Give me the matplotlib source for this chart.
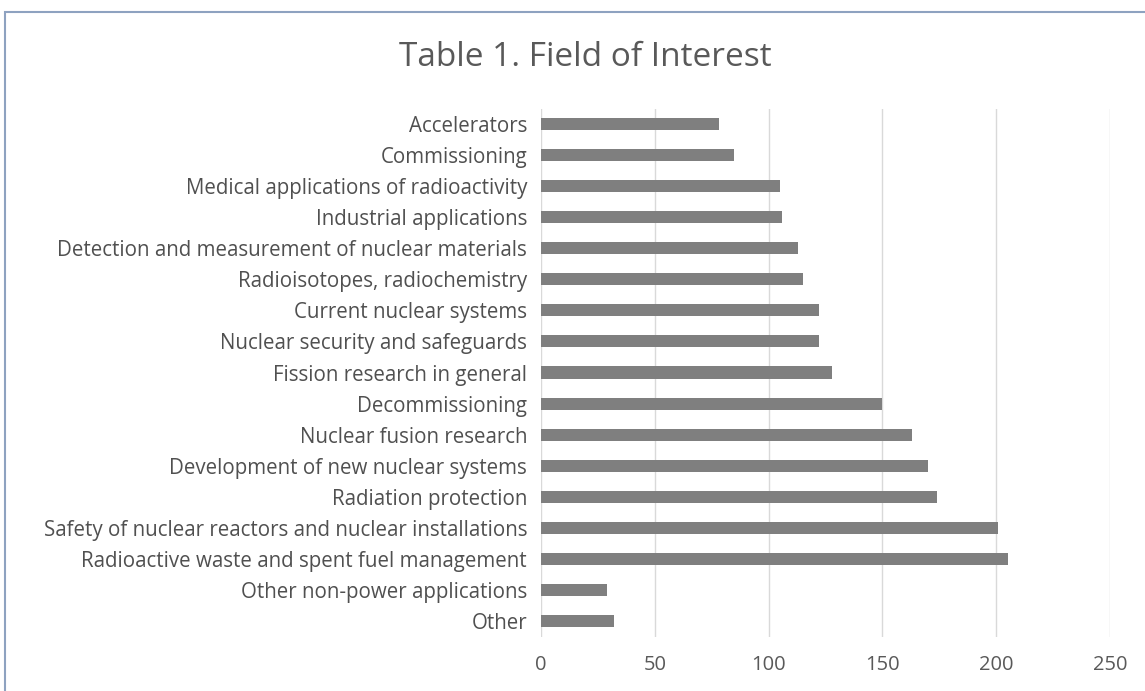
import matplotlib
matplotlib.use("Agg")
import matplotlib.pyplot as plt
from matplotlib.patches import Rectangle

categories = [
    "Accelerators",
    "Commissioning",
    "Medical applications of radioactivity",
    "Industrial applications",
    "Detection and measurement of nuclear materials",
    "Radioisotopes, radiochemistry",
    "Current nuclear systems",
    "Nuclear security and safeguards",
    "Fission research in general",
    "Decommissioning",
    "Nuclear fusion research",
    "Development of new nuclear systems",
    "Radiation protection",
    "Safety of nuclear reactors and nuclear installations",
    "Radioactive waste and spent fuel management",
    "Other non-power applications",
    "Other",
]
values = [78, 85, 105, 106, 113, 115, 122, 122, 128, 150, 163, 170, 174, 201, 205, 29, 32]
xticks = [0, 50, 100, 150, 200, 250]
title = "Table 1. Field of Interest"

plt.rcParams['font.family'] = ['Open Sans', 'DejaVu Sans']

W, H = 1145, 691
fig = plt.figure(figsize=(W / 100, H / 100), dpi=100)
fig.patch.set_facecolor("white")

# outer border
fig.patches.append(Rectangle((5 / W, -0.05), 1.2, 1 - 12 / H + 0.05,
                             transform=fig.transFigure, fill=False,
                             edgecolor="#8ea2c0", linewidth=1.5))

left, right = 541 / W, 1110 / W
top, bottom = 1 - 108.5 / H, 1 - 636.5 / H
ax = fig.add_axes([left, bottom, right - left, top - bottom])

y = list(range(len(categories)))
ax.barh(y, values, height=0.39, color="#7f7f7f", zorder=3)
ax.set_ylim(len(categories) - 0.5, -0.5)
ax.set_xlim(0, 250)
ax.set_yticks(y)
ax.set_yticklabels(categories, fontsize=14.8, color="#505050")
ax.set_xticks(xticks)
ax.set_xticklabels([str(t) for t in xticks], fontsize=14.5, color="#595959")
ax.tick_params(axis="both", length=0)
ax.tick_params(axis="y", pad=10)
ax.tick_params(axis="x", pad=13)
for s in ax.spines.values():
    s.set_visible(False)
ax.grid(axis="x", color="#d9d9d9", linewidth=1, zorder=0)
ax.set_axisbelow(True)

fig.text(585 / W, 1 - 57 / H, title, ha="center", va="center",
         fontsize=24, color="#595959")

fig.savefig("out.png", dpi=100)
